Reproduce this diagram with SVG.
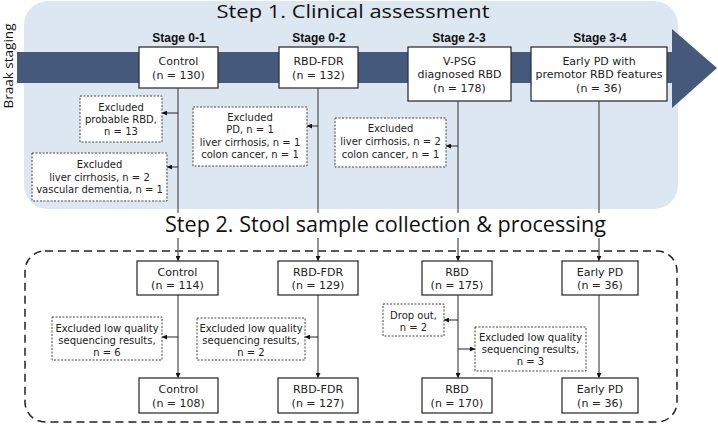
<svg xmlns="http://www.w3.org/2000/svg" width="718" height="424" viewBox="0 0 718 424">
<defs>
<marker id="ah" viewBox="0 0 6 6" refX="6" refY="3" markerWidth="5" markerHeight="5" orient="auto" markerUnits="userSpaceOnUse">
<path d="M0,0 L6,3 L0,6 z" fill="#111"/>
</marker>
<style>
.title{font-family:"Open Sans","DejaVu Sans",sans-serif;fill:#111;text-anchor:middle}
.side{font-family:"Open Sans","DejaVu Sans",sans-serif;font-size:13.5px;fill:#111;text-anchor:middle}
.stage{font-family:"Liberation Sans",Arial,sans-serif;font-size:12px;font-weight:bold;fill:#111;text-anchor:middle}
.box rect{fill:#fff;stroke:#333;stroke-width:1.3}
.box text{font-family:"DejaVu Sans",Verdana,sans-serif;font-size:11px;fill:#222;text-anchor:middle}
.exc rect{fill:#fff;stroke:#444;stroke-width:1;stroke-dasharray:2 1.5}
.exc text{font-family:"DejaVu Sans",Verdana,sans-serif;font-size:10px;fill:#222;text-anchor:middle}
.flow{stroke:#666;stroke-width:1.4;fill:none}
.side-arrow{stroke:#222;stroke-width:1;fill:none}
</style>
</defs>

<!-- background -->
<rect x="24" y="1" width="654" height="208" rx="24" fill="#dde7f2"/>
<rect x="17" y="52" width="656" height="31" fill="#45597c"/>
<polygon points="672,29 717,68 672,108" fill="#45597c"/>
<text class="side" transform="translate(13,66) rotate(-90)">Braak staging</text>
<text class="title" x="353" y="18" font-size="18" textLength="273" lengthAdjust="spacingAndGlyphs">Step 1. Clinical assessment</text>
<rect x="25" y="251" width="652" height="171" rx="20" fill="none" stroke="#222" stroke-width="1.5" stroke-dasharray="8 5"/>

<!-- connectors -->
<g id="connectors">
<line class="flow" x1="178" y1="88" x2="178" y2="261" marker-end="url(#ah)"/>
<line class="flow" x1="318" y1="88" x2="318" y2="261" marker-end="url(#ah)"/>
<line class="flow" x1="458" y1="101" x2="458" y2="261" marker-end="url(#ah)"/>
<line class="flow" x1="599" y1="101" x2="599" y2="261" marker-end="url(#ah)"/>
<line class="side-arrow" x1="178" y1="113" x2="162" y2="113" marker-end="url(#ah)"/>
<line class="side-arrow" x1="178" y1="167" x2="167" y2="167" marker-end="url(#ah)"/>
<line class="side-arrow" x1="318" y1="126" x2="307" y2="126" marker-end="url(#ah)"/>
<line class="side-arrow" x1="458" y1="146" x2="446" y2="146" marker-end="url(#ah)"/>
<line class="flow" x1="178" y1="295" x2="178" y2="378" marker-end="url(#ah)"/>
<line class="flow" x1="318" y1="295" x2="318" y2="378" marker-end="url(#ah)"/>
<line class="flow" x1="458" y1="295" x2="458" y2="378" marker-end="url(#ah)"/>
<line class="flow" x1="599" y1="295" x2="599" y2="378" marker-end="url(#ah)"/>
<line class="side-arrow" x1="178" y1="337" x2="162" y2="337" marker-end="url(#ah)"/>
<line class="side-arrow" x1="318" y1="337" x2="305" y2="337" marker-end="url(#ah)"/>
<line class="side-arrow" x1="458" y1="320" x2="444" y2="320" marker-end="url(#ah)"/>
<line class="side-arrow" x1="458" y1="349" x2="475" y2="349" marker-end="url(#ah)"/>
</g>

<rect x="160" y="213" width="455" height="25" fill="#fff"/>
<text class="title" x="385.5" y="232" font-size="21" textLength="441" lengthAdjust="spacingAndGlyphs">Step 2. Stool sample collection &amp; processing</text>

<!-- stage labels -->
<text class="stage" x="179" y="42">Stage 0-1</text>
<text class="stage" x="319" y="42">Stage 0-2</text>
<text class="stage" x="459" y="42">Stage 2-3</text>
<text class="stage" x="600" y="42">Stage 3-4</text>

<!-- step 1 nodes -->
<g id="control1" class="box"><rect x="139" y="47" width="79" height="41"/><text x="178.5" y="65">Control</text><text x="178.5" y="79">(n = 130)</text></g>
<g id="rbdfdr1" class="box"><rect x="279" y="47" width="79" height="41"/><text x="318.5" y="65">RBD-FDR</text><text x="318.5" y="79">(n = 132)</text></g>
<g id="vpsg1" class="box"><rect x="408" y="47" width="103" height="54"/><text x="459.5" y="65">V-PSG</text><text x="459.5" y="78">diagnosed RBD</text><text x="459.5" y="92">(n = 178)</text></g>
<g id="earlypd1" class="box"><rect x="531" y="47" width="136" height="54"/><text x="599" y="65">Early PD with</text><text x="599" y="78">premotor RBD features</text><text x="599" y="92">(n = 36)</text></g>

<g id="exc1" class="exc"><rect x="80" y="96" width="82" height="46"/><text x="121" y="111">Excluded</text><text x="121" y="123">probable RBD,</text><text x="121" y="135">n = 13</text></g>
<g id="exc2" class="exc"><rect x="32" y="153" width="135" height="48"/><text x="99.5" y="168">Excluded</text><text x="99.5" y="181">liver cirrhosis, n = 2</text><text x="99.5" y="193">vascular dementia, n = 1</text></g>
<g id="exc3" class="exc"><rect x="193" y="107" width="114" height="59"/><text x="250" y="121">Excluded</text><text x="250" y="133">PD, n = 1</text><text x="250" y="146">liver cirrhosis, n = 1</text><text x="250" y="158">colon cancer, n = 1</text></g>
<g id="exc4" class="exc"><rect x="335" y="118" width="111" height="49"/><text x="390.5" y="132">Excluded</text><text x="390.5" y="145">liver cirrhosis, n = 2</text><text x="390.5" y="158">colon cancer, n = 1</text></g>

<!-- step 2 nodes -->
<g id="control2" class="box"><rect x="137" y="261" width="81" height="34"/><text x="177.5" y="276">Control</text><text x="177.5" y="289">(n = 114)</text></g>
<g id="rbdfdr2" class="box"><rect x="278" y="261" width="80" height="34"/><text x="318" y="276">RBD-FDR</text><text x="318" y="289">(n = 129)</text></g>
<g id="rbd2" class="box"><rect x="422" y="261" width="70" height="34"/><text x="457" y="276">RBD</text><text x="457" y="289">(n = 175)</text></g>
<g id="earlypd2" class="box"><rect x="562" y="261" width="76" height="34"/><text x="600" y="276">Early PD</text><text x="600" y="289">(n = 36)</text></g>

<g id="exc5" class="exc"><rect x="52" y="317" width="110" height="43"/><text x="107" y="332">Excluded low quality</text><text x="107" y="344">sequencing results,</text><text x="107" y="356">n = 6</text></g>
<g id="exc6" class="exc"><rect x="197" y="318" width="108" height="42"/><text x="251" y="332">Excluded low quality</text><text x="251" y="344">sequencing results,</text><text x="251" y="356">n = 2</text></g>
<g id="dropout" class="exc"><rect x="383" y="304" width="61" height="32"/><text x="413.5" y="319">Drop out,</text><text x="413.5" y="331">n = 2</text></g>
<g id="exc7" class="exc"><rect x="475" y="327" width="111" height="44"/><text x="530.5" y="341">Excluded low quality</text><text x="530.5" y="353">sequencing results,</text><text x="530.5" y="365">n = 3</text></g>

<g id="control3" class="box"><rect x="139" y="378" width="79" height="35"/><text x="178.5" y="393">Control</text><text x="178.5" y="407">(n = 108)</text></g>
<g id="rbdfdr3" class="box"><rect x="278" y="378" width="80" height="35"/><text x="318" y="393">RBD-FDR</text><text x="318" y="407">(n = 127)</text></g>
<g id="rbd3" class="box"><rect x="422" y="378" width="70" height="35"/><text x="457" y="393">RBD</text><text x="457" y="407">(n = 170)</text></g>
<g id="earlypd3" class="box"><rect x="562" y="378" width="76" height="35"/><text x="600" y="393">Early PD</text><text x="600" y="407">(n = 36)</text></g>
</svg>
